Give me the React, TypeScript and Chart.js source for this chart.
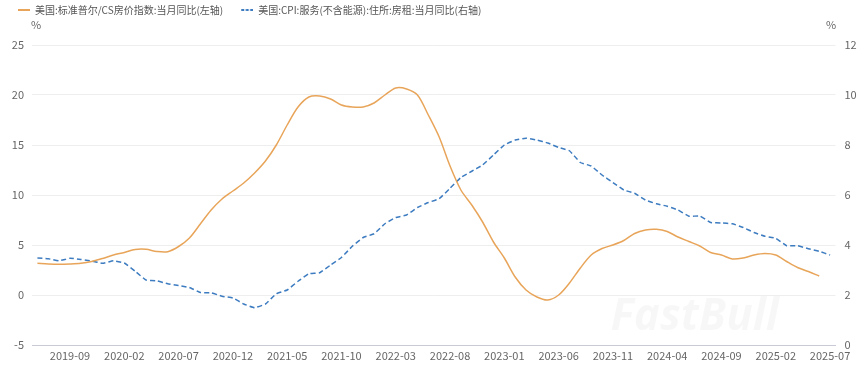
import { useEffect, useRef } from 'react';
import { Chart, registerables } from 'chart.js';

Chart.register(...registerables);

const months = [
  '2019-06', '2019-07', '2019-08', '2019-09', '2019-10', '2019-11', '2019-12',
  '2020-01', '2020-02', '2020-03', '2020-04', '2020-05', '2020-06', '2020-07', '2020-08', '2020-09', '2020-10', '2020-11', '2020-12',
  '2021-01', '2021-02', '2021-03', '2021-04', '2021-05', '2021-06', '2021-07', '2021-08', '2021-09', '2021-10', '2021-11', '2021-12',
  '2022-01', '2022-02', '2022-03', '2022-04', '2022-05', '2022-06', '2022-07', '2022-08', '2022-09', '2022-10', '2022-11', '2022-12',
  '2023-01', '2023-02', '2023-03', '2023-04', '2023-05', '2023-06', '2023-07', '2023-08', '2023-09', '2023-10', '2023-11', '2023-12',
  '2024-01', '2024-02', '2024-03', '2024-04', '2024-05', '2024-06', '2024-07', '2024-08', '2024-09', '2024-10', '2024-11', '2024-12',
  '2025-01', '2025-02', '2025-03', '2025-04', '2025-05', '2025-06', '2025-07',
];

const tickLabels = [
  '2019-09', '2020-02', '2020-07', '2020-12', '2021-05', '2021-10', '2022-03', '2022-08',
  '2023-01', '2023-06', '2023-11', '2024-04', '2024-09', '2025-02', '2025-07',
];

const seriesNames = [
  '美国:标准普尔/CS房价指数:当月同比(左轴)',
  '美国:CPI:服务(不含能源):住所:房租:当月同比(右轴)',
];

// Left axis (%)
const caseShiller = [
  3.17, 3.1, 3.07, 3.1, 3.17, 3.35, 3.65, 4.0, 4.25, 4.55,
  4.57, 4.35, 4.33, 4.85, 5.7, 7.1, 8.5, 9.6, 10.4, 11.2,
  12.2, 13.4, 15.0, 17.0, 18.8, 19.8, 19.9, 19.6, 19.0, 18.8,
  18.8, 19.2, 20.0, 20.7, 20.6, 20.0, 18.0, 15.8, 12.9, 10.5,
  9.0, 7.3, 5.3, 3.7, 1.8, 0.5, -0.2, -0.5, 0.0, 1.2,
  2.7, 4.0, 4.65, 5.0, 5.45, 6.15, 6.5, 6.57, 6.35, 5.8,
  5.35, 4.9, 4.25, 4.0, 3.6, 3.7, 4.0, 4.15, 4.0, 3.35,
  2.75, 2.35, 1.9, null,
];

// Right axis (%)
const rentCpi = [
  3.48, 3.45, 3.37, 3.47, 3.42, 3.36, 3.27, 3.37, 3.28, 2.95,
  2.6, 2.57, 2.45, 2.38, 2.3, 2.1, 2.09, 1.95, 1.88, 1.64,
  1.49, 1.64, 2.05, 2.2, 2.55, 2.85, 2.89, 3.2, 3.5, 3.95,
  4.3, 4.45, 4.85, 5.1, 5.2, 5.5, 5.7, 5.85, 6.27, 6.7,
  6.95, 7.2, 7.6, 8.0, 8.2, 8.27, 8.2, 8.08, 7.9, 7.77,
  7.3, 7.16, 6.8, 6.5, 6.2, 6.07, 5.8, 5.65, 5.55, 5.4,
  5.15, 5.16, 4.9, 4.88, 4.85, 4.7, 4.5, 4.35, 4.27, 3.97,
  3.97, 3.85, 3.75, 3.6,
];

const ORANGE = '#E8A55A';
const BLUE = '#3D7CC0';
const FONT = '"Noto Sans CJK SC", "Noto Sans", sans-serif';

function makeMarker(color: string, dashed: boolean): HTMLCanvasElement {
  const c = document.createElement('canvas');
  c.width = 25;
  c.height = 4;
  const ctx = c.getContext('2d')!;
  ctx.strokeStyle = color;
  ctx.lineWidth = 2;
  if (dashed) ctx.setLineDash([3, 1.5]);
  ctx.beginPath();
  ctx.moveTo(13, 2);
  ctx.lineTo(25, 2);
  ctx.stroke();
  return c;
}

const legendSpacePlugin = {
  id: 'legendSpace',
  afterInit(chart: any) {
    const legend = chart.legend;
    if (!legend || legend.__patched) return;
    const orig = legend.fit;
    legend.fit = function () {
      orig.call(this);
      this.height += 20;
    };
    legend.__patched = true;
  },
};

const extrasPlugin = {
  id: 'extras',
  beforeDatasetsDraw(chart: any) {
    const { ctx, chartArea } = chart;
    ctx.save();
    ctx.font = 'italic bold 44px "Open Sans", sans-serif';
    ctx.fillStyle = 'rgba(0,0,0,0.03)';
    ctx.textAlign = 'left';
    ctx.textBaseline = 'middle';
    ctx.fillText('FastBull', chartArea.right - 225, chartArea.bottom - 28);
    ctx.restore();
  },
  afterDraw(chart: any) {
    const { ctx, chartArea } = chart;
    ctx.save();
    ctx.font = `11px ${FONT}`;
    ctx.fillStyle = '#666';
    ctx.textAlign = 'center';
    ctx.textBaseline = 'middle';
    ctx.fillText('%', chartArea.left + 4, chartArea.top - 20);
    ctx.fillText('%', chartArea.right - 4.5, chartArea.top - 20);
    ctx.restore();
  },
};

export default function App() {
  const ref = useRef<HTMLCanvasElement | null>(null);

  useEffect(() => {
    if (!ref.current) return;
    const markers = [makeMarker(ORANGE, false), makeMarker(BLUE, true)];
    const chart = new Chart(ref.current, {
      type: 'line',
      data: {
        labels: months,
        datasets: [
          {
            label: seriesNames[0],
            data: caseShiller,
            yAxisID: 'y',
            borderColor: ORANGE,
            backgroundColor: ORANGE,
            borderWidth: 1.5,
            pointRadius: 0,
            tension: 0.3,
            spanGaps: false,
          },
          {
            label: seriesNames[1],
            data: rentCpi,
            yAxisID: 'y1',
            borderColor: BLUE,
            backgroundColor: BLUE,
            borderWidth: 1.5,
            borderDash: [5, 3],
            pointRadius: 0,
            tension: 0.1,
          },
        ],
      },
      options: {
        animation: false,
        responsive: false,
        layout: { padding: { top: 0, left: 0, right: 0, bottom: 0 } },
        plugins: {
          tooltip: { enabled: false },
          legend: {
            display: true,
            position: 'top',
            align: 'start',
            labels: {
              usePointStyle: true,
              pointStyleWidth: 25,
              padding: 5,
              color: '#555',
              font: { size: 10, family: FONT },
              generateLabels: () =>
                seriesNames.map((name, i) => ({
                  text: name,
                  fillStyle: 'transparent',
                  strokeStyle: 'transparent',
                  lineWidth: 0,
                  pointStyle: markers[i],
                  datasetIndex: i,
                  hidden: false,
                  fontColor: '#555',
                })),
            },
          },
        },
        scales: {
          x: {
            type: 'category',
            offset: true,
            grid: { display: false, drawTicks: false },
            border: { display: true, color: '#c8cad6', width: 1 },
            ticks: {
              autoSkip: false,
              maxRotation: 0,
              minRotation: 0,
              padding: 4,
              color: '#666',
              font: { size: 11, family: FONT },
              callback: (_v: any, i: number) => (tickLabels.includes(months[i]) ? months[i] : ''),
            },
            afterFit: (s: any) => {
              s.height = 25;
            },
          },
          y: {
            position: 'left',
            min: -5,
            max: 25,
            ticks: { stepSize: 5, padding: 8, color: '#666', font: { size: 11, family: FONT } },
            grid: { color: '#eeeeee', drawTicks: false },
            border: { display: false },
            afterFit: (s: any) => {
              s.width = 32;
            },
          },
          y1: {
            position: 'right',
            min: 0,
            max: 12,
            ticks: { stepSize: 2, padding: 9, color: '#666', font: { size: 11, family: FONT } },
            grid: { drawOnChartArea: false, drawTicks: false },
            border: { display: false },
            afterFit: (s: any) => {
              s.width = 29.5;
            },
          },
        },
      },
      plugins: [legendSpacePlugin, extrasPlugin],
    });
    return () => chart.destroy();
  }, []);

  return (
    <div style={{ position: 'fixed', left: 0, top: 0, width: 865, height: 370, background: '#fff' }}>
      <canvas ref={ref} width={865} height={370} style={{ width: 865, height: 370, display: 'block' }} />
    </div>
  );
}
